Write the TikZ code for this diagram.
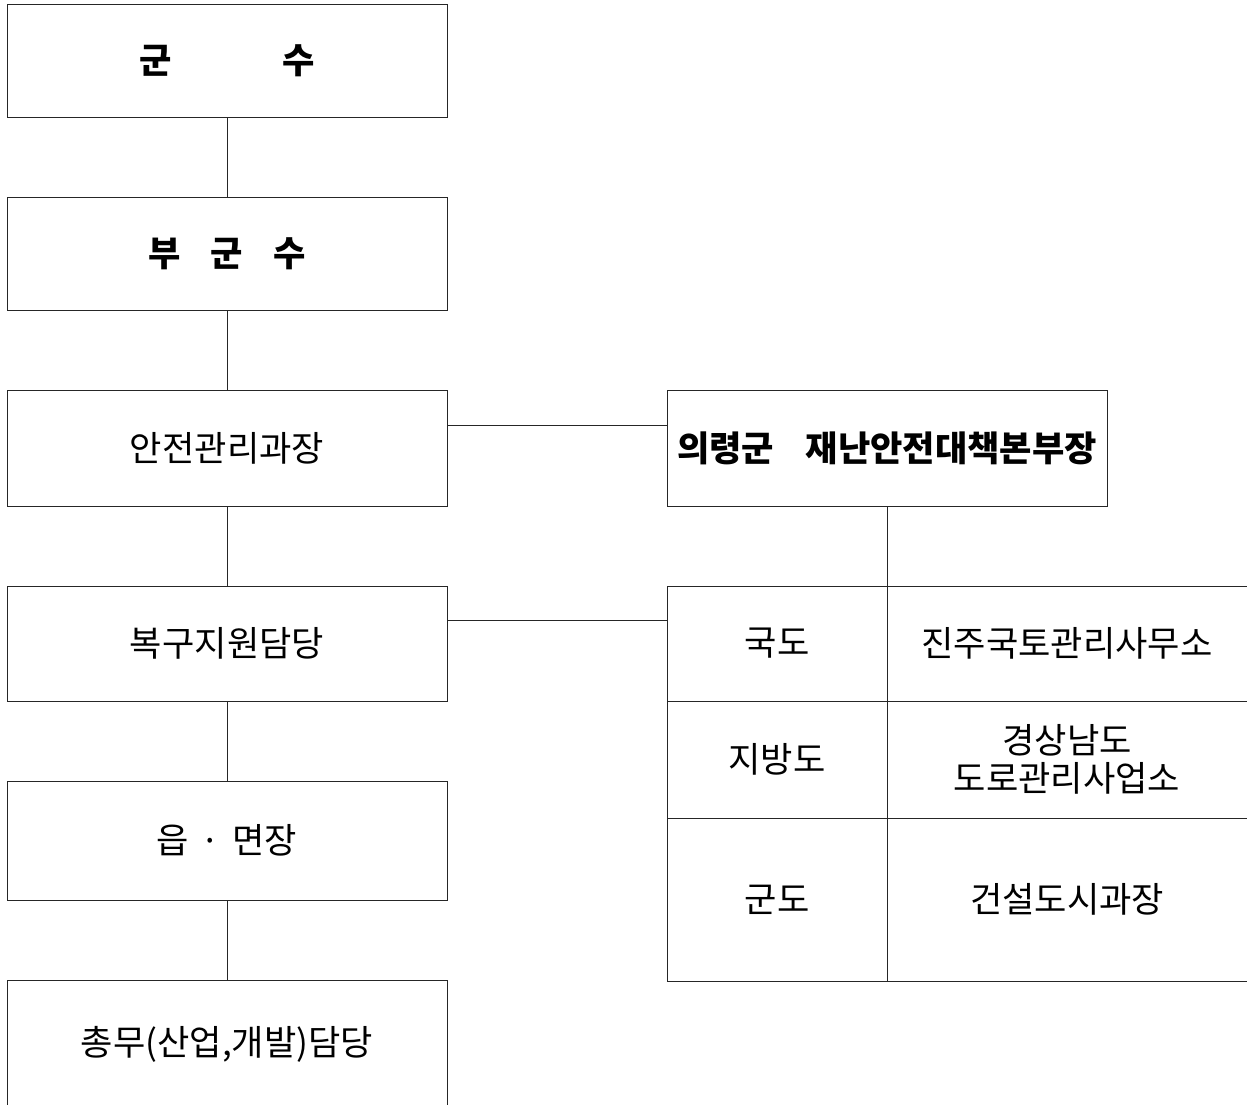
\documentclass[tikz,border=0pt]{standalone}
\usepackage{fontspec}
\setmainfont{Noto Sans CJK KR}
\usepackage{tikz}
\usetikzlibrary{positioning, calc}

\begin{document}
\begin{tikzpicture}[
    node distance=2cm and 5.5cm,
    box/.style={
        draw=black!85,
        line width=0.7pt,
        align=center,
        minimum width=11cm,
        minimum height=2.9cm,
        inner sep=0pt,
        outer sep=0pt,
        font=\fontsize{25}{27}\selectfont
    },
    cell/.style={box, minimum width=5.5cm},
    line/.style={draw=black!85, line width=0.7pt}
]
\useasboundingbox (0,0) rectangle (31.175,-27.625);

% left column
\node[box, minimum height=2.825cm, font=\fontsize{25}{27}\selectfont\bfseries, anchor=north west] (gunsu) at (0.175,-0.1) {군\hspace{2.75cm}수};
\node[box, minimum height=2.825cm, font=\fontsize{25}{27}\selectfont\bfseries, below=of gunsu] (bugunsu) {부\hspace{0.75cm}군\hspace{0.75cm}수};
\node[box, below=of bugunsu] (anjeon) {안전관리과장};
\node[box, minimum height=2.875cm, below=of anjeon] (bokgu) {복구지원담당};
\node[box, minimum height=2.975cm, below=of bokgu] (eupmyeon) {읍\hspace{0.3cm}·\hspace{0.3cm}면장};
\node[box, minimum height=3.2cm, below=of eupmyeon] (chongmu) {총무(산업,개발)담당};

% right column
\node[box, font=\fontsize{25}{27}\selectfont\bfseries, right=of anjeon] (bonbu) {의령군\hspace{0.8cm}재난안전대책본부장};
\node[cell, minimum height=2.875cm, right=of bokgu] (gukdo) {국도};
\node[cell, minimum height=2.875cm, minimum width=9cm, right=0cm of gukdo] (jinju) {진주국토관리사무소};
\node[cell, minimum height=2.925cm, below=0cm of gukdo] (jibangdo) {지방도};
\node[cell, minimum height=2.925cm, minimum width=9cm, right=0cm of jibangdo] (gyeongnam) {경상남도\\도로관리사업소};
\node[cell, minimum height=4.075cm, below=0cm of jibangdo] (gundo) {군도};
\node[cell, minimum height=4.075cm, minimum width=9cm, right=0cm of gundo] (geonseol) {건설도시과장};

% connectors
\draw[line] (gunsu) -- (bugunsu);
\draw[line] (bugunsu) -- (anjeon);
\draw[line] (anjeon) -- (bokgu);
\draw[line] (bokgu) -- (eupmyeon);
\draw[line] (eupmyeon) -- (chongmu);
\draw[line] ([yshift=-0.875cm]anjeon.north east) -- ([yshift=-0.875cm]bonbu.north west);
\draw[line] ([yshift=-0.85cm]bokgu.north east) -- ([yshift=-0.85cm]gukdo.north west);
\draw[line] (bonbu.south) -- (gukdo.north east);

\end{tikzpicture}
\end{document}
